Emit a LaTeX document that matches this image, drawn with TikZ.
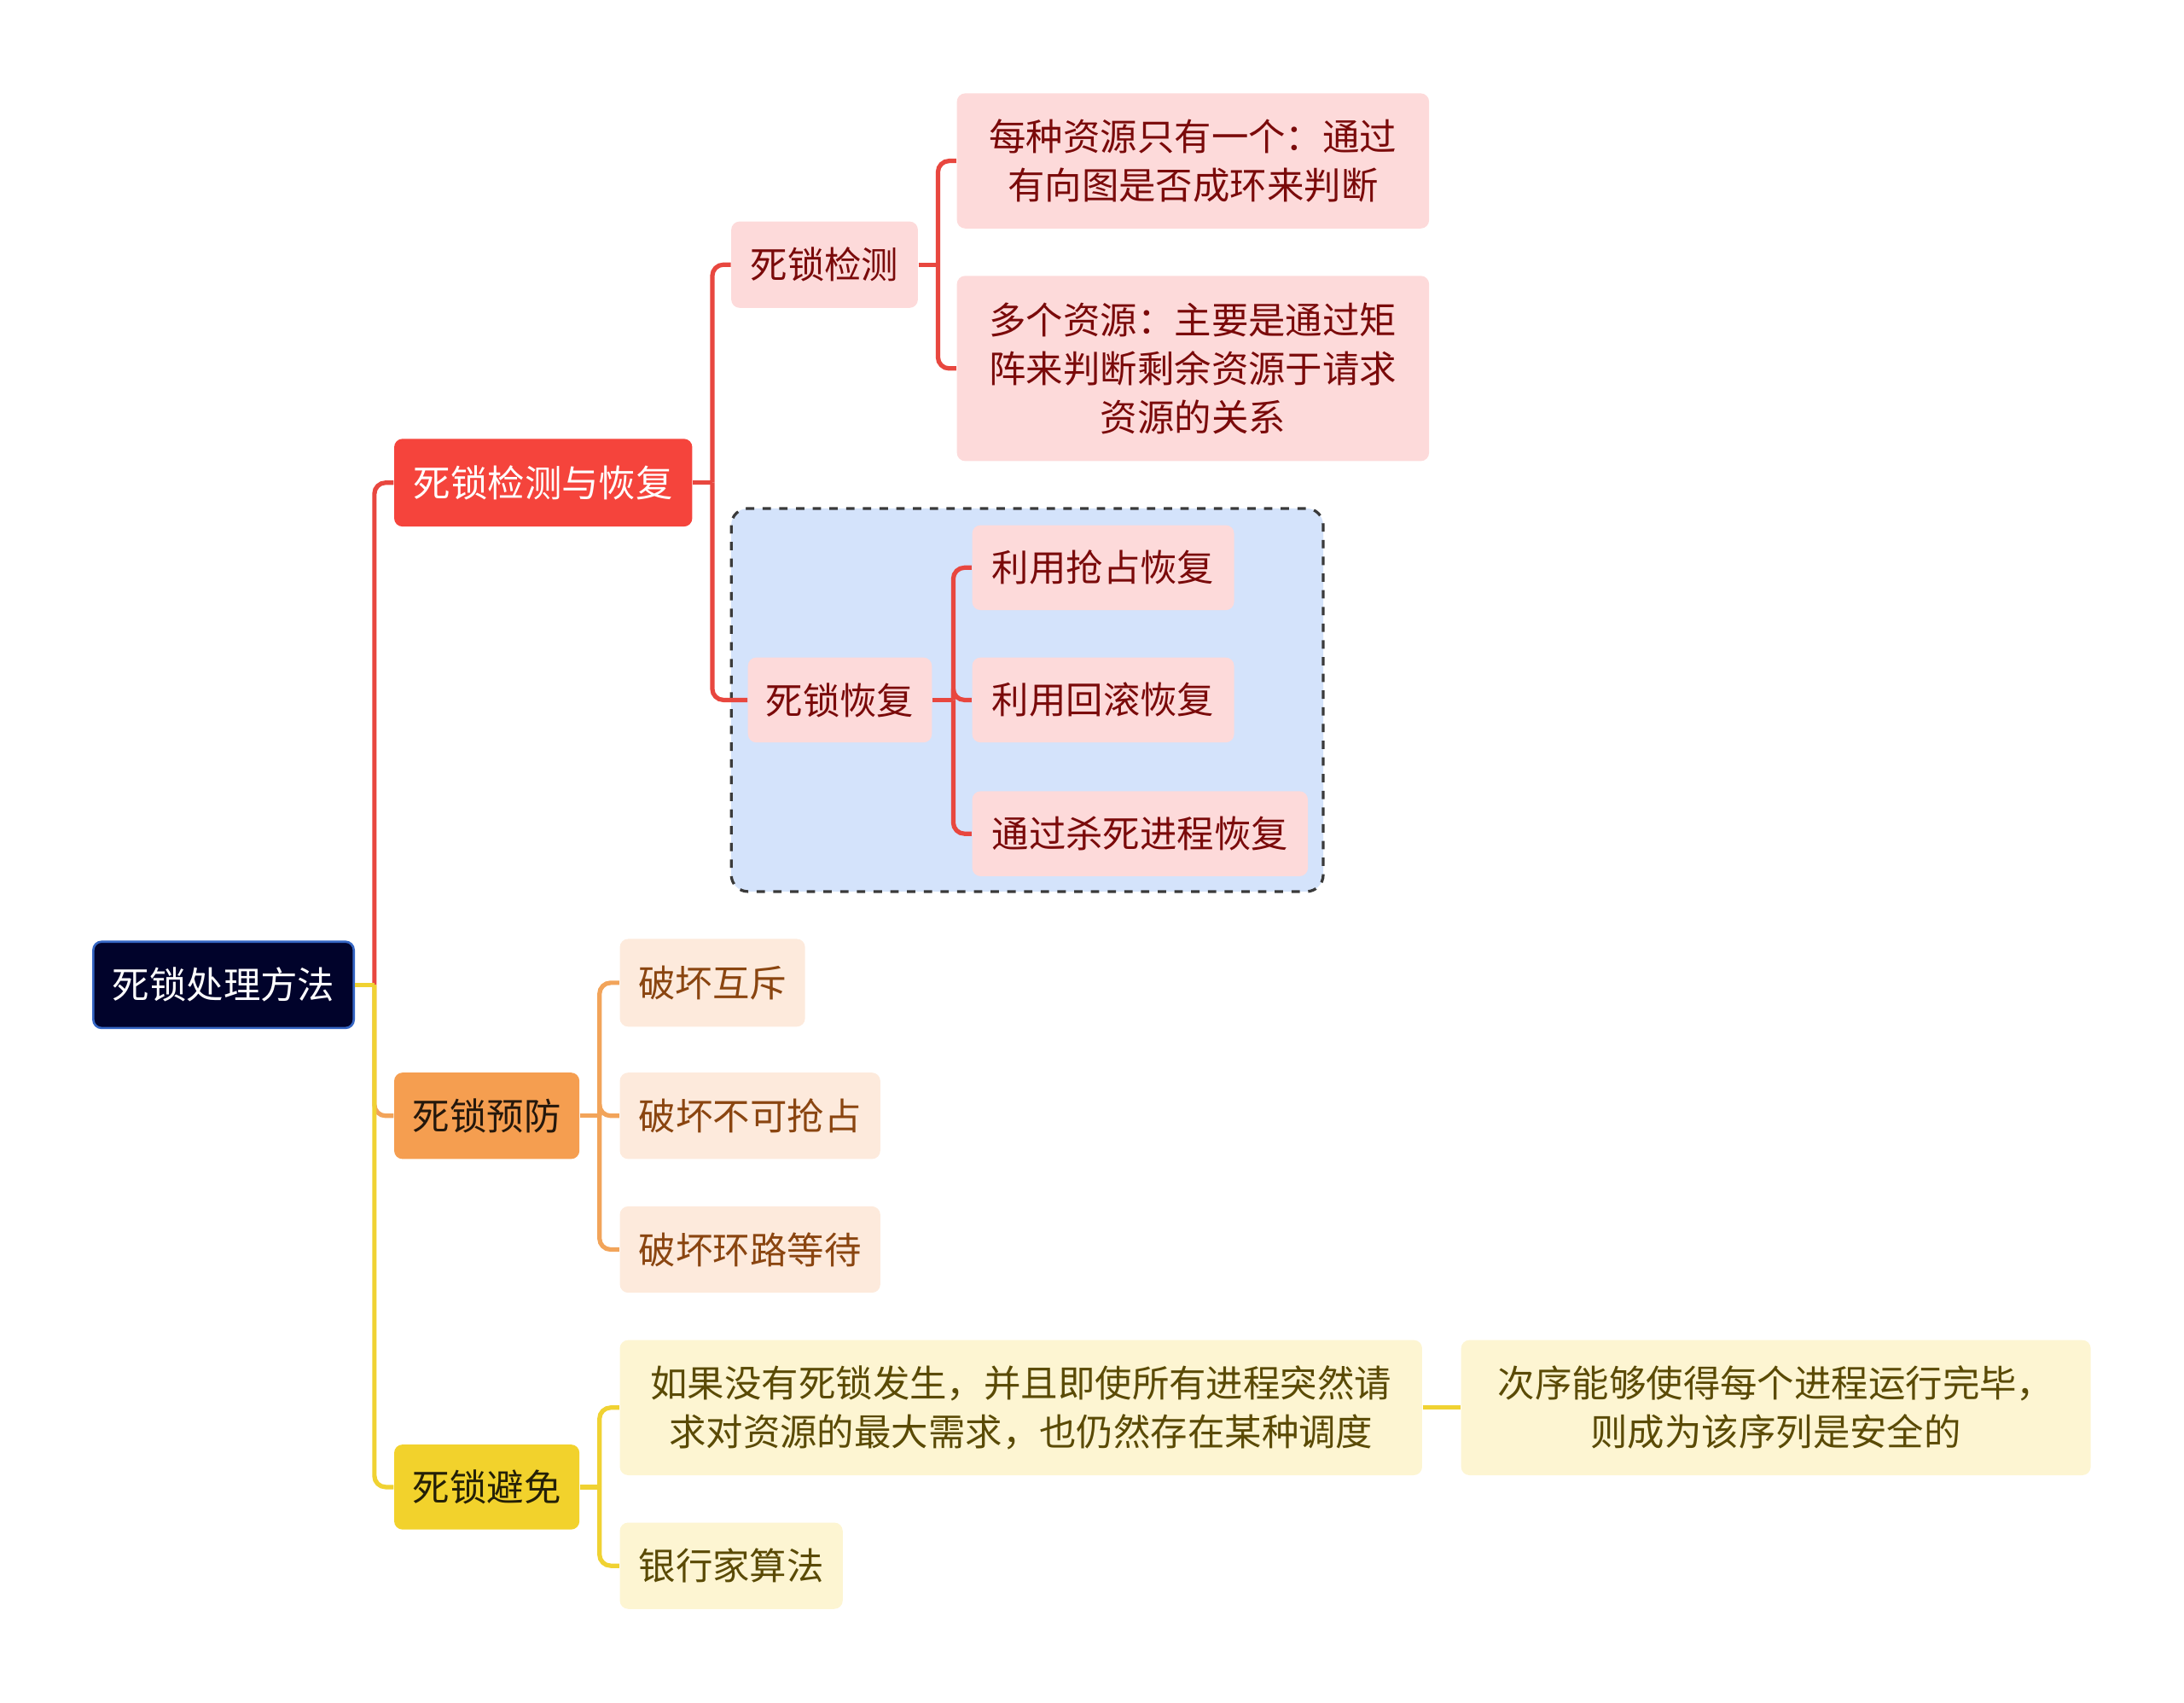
\documentclass[tikz,border=0pt]{standalone}
\usepackage{fontspec}
\setmainfont{Noto Sans CJK SC}
\definecolor{rootfill}{HTML}{01032B}
\definecolor{rootborder}{HTML}{3566C4}
\definecolor{redmain}{HTML}{F5443C}
\definecolor{redline}{HTML}{E8473F}
\definecolor{redsub}{HTML}{FDDADA}
\definecolor{redtext}{HTML}{7A0A0A}
\definecolor{orgmain}{HTML}{F59E50}
\definecolor{orgline}{HTML}{F2A45A}
\definecolor{orgsub}{HTML}{FDEADC}
\definecolor{orgtext}{HTML}{8A4510}
\definecolor{ylwmain}{HTML}{F2D22C}
\definecolor{ylwline}{HTML}{F0D232}
\definecolor{ylwsub}{HTML}{FDF5D2}
\definecolor{ylwtext}{HTML}{5A4A05}
\definecolor{groupfill}{HTML}{D4E3FB}
\definecolor{groupborder}{HTML}{3A3A3A}
\tikzset{
  box/.style={rounded corners=3pt, align=center, inner sep=0pt,
    font=\fontsize{13.3}{17.5}\selectfont},
  rootbox/.style={box, fill=rootfill, draw=rootborder, line width=0.8pt, text=white},
  redbox/.style={box, fill=redmain, text=white},
  redsubbox/.style={box, fill=redsub, text=redtext},
  orgbox/.style={box, fill=orgmain, text=black!85!orgmain},
  orgsubbox/.style={box, fill=orgsub, text=orgtext},
  ylwbox/.style={box, fill=ylwmain, text=black!85!ylwmain},
  ylwsubbox/.style={box, fill=ylwsub, text=ylwtext},
  link/.style={line width=1.6pt, rounded corners=4pt},
  redlink/.style={link, draw=redline},
  orglink/.style={link, draw=orgline},
  ylwlink/.style={link, draw=ylwline},
  groupbox/.style={draw=groupborder, fill=groupfill, dashed, line width=1pt, rounded corners=6pt}
}
\begin{document}
\begin{tikzpicture}[x=0.5pt, y=-0.5pt]
\useasboundingbox (0,0) rectangle (1568,1222);

% dashed group
\draw[groupbox] (525,365) rectangle (950,640);

% nodes
\node[rootbox, minimum width=93.5pt, minimum height=31pt] (root) at (160.5,707) {死锁处理方法};

\node[redbox, minimum width=107pt, minimum height=31.5pt] (det) at (390,346.5) {死锁检测与恢复};
\node[orgbox, minimum width=66.5pt, minimum height=31pt] (prev) at (349.5,801) {死锁预防};
\node[ylwbox, minimum width=66.5pt, minimum height=30.5pt] (avoid) at (349.5,1067.5) {死锁避免};

\node[redsubbox, minimum width=67pt, minimum height=31pt] (jc) at (592,190) {死锁检测};
\node[redsubbox, minimum width=66pt, minimum height=30.5pt] (hf) at (603,502.5) {死锁恢复};

\node[redsubbox, minimum width=169.5pt, minimum height=48.5pt] (d1) at (856.5,115.5) {每种资源只有一个：通过\\有向图是否成环来判断};
\node[redsubbox, minimum width=169.5pt, minimum height=66.5pt] (d2) at (856.5,264.5) {多个资源：主要是通过矩\\阵来判断剩余资源于请求\\资源的关系};

\node[redsubbox, minimum width=94pt, minimum height=30.5pt] (ra) at (792,407.5) {利用抢占恢复};
\node[redsubbox, minimum width=94pt, minimum height=30.5pt] (rb) at (792,502.5) {利用回滚恢复};
\node[redsubbox, minimum width=120.5pt, minimum height=30.5pt] (rc) at (818.5,598.5) {通过杀死进程恢复};

\node[orgsubbox, minimum width=66.5pt, minimum height=31.5pt] (p1) at (511.5,705.5) {破坏互斥};
\node[orgsubbox, minimum width=93.5pt, minimum height=31pt] (p2) at (538.5,801) {破坏不可抢占};
\node[orgsubbox, minimum width=93.5pt, minimum height=31pt] (p3) at (538.5,897) {破坏环路等待};

\node[ylwsubbox, minimum width=288pt, minimum height=48.5pt] (a1) at (733,1010.5) {如果没有死锁发生，并且即使所有进程突然请\\求对资源的最大需求，也仍然存在某种调度};
\node[ylwsubbox, minimum width=80pt, minimum height=31pt] (a2) at (525,1124) {银行家算法};
\node[ylwsubbox, minimum width=226pt, minimum height=48.5pt] (a3) at (1275,1010.5) {次序能够使得每个进程运行完毕，\\则成为该序列是安全的};

% junction points
\coordinate (jroot) at ([xshift=7pt]root.east);
\coordinate (jdet) at ([xshift=7pt]det.east);
\coordinate (jjc) at ([xshift=7pt]jc.east);
\coordinate (jhf) at ([xshift=7.5pt]hf.east);
\coordinate (jprev) at ([xshift=7pt]prev.east);
\coordinate (javoid) at ([xshift=7pt]avoid.east);

% connectors
\draw[redlink] (jroot) |- (det.west);
\draw[orglink] (jroot) |- (prev.west);
\draw[ylwlink] (jroot) |- (avoid.west);
\draw[ylwlink] (root.east) -- (jroot);

\draw[redlink] (det.east) -- (jdet);
\draw[redlink] (jdet) |- (jc.west);
\draw[redlink] (jdet) |- (hf.west);

\draw[redlink] (jc.east) -- (jjc);
\draw[redlink] (jjc) |- (d1.west);
\draw[redlink] (jjc) |- (d2.west);

\draw[redlink] (hf.east) -- (jhf);
\draw[redlink] (jhf) |- (ra.west);
\draw[redlink] (jhf) |- (rb.west);
\draw[redlink] (jhf) |- (rc.west);

\draw[orglink] (prev.east) -- (jprev);
\draw[orglink] (jprev) |- (p1.west);
\draw[orglink] (jprev) |- (p2.west);
\draw[orglink] (jprev) |- (p3.west);

\draw[ylwlink] (avoid.east) -- (javoid);
\draw[ylwlink] (javoid) |- (a1.west);
\draw[ylwlink] (javoid) |- (a2.west);

\draw[ylwlink] (a1.east) -- (a3.west);
\end{tikzpicture}
\end{document}
